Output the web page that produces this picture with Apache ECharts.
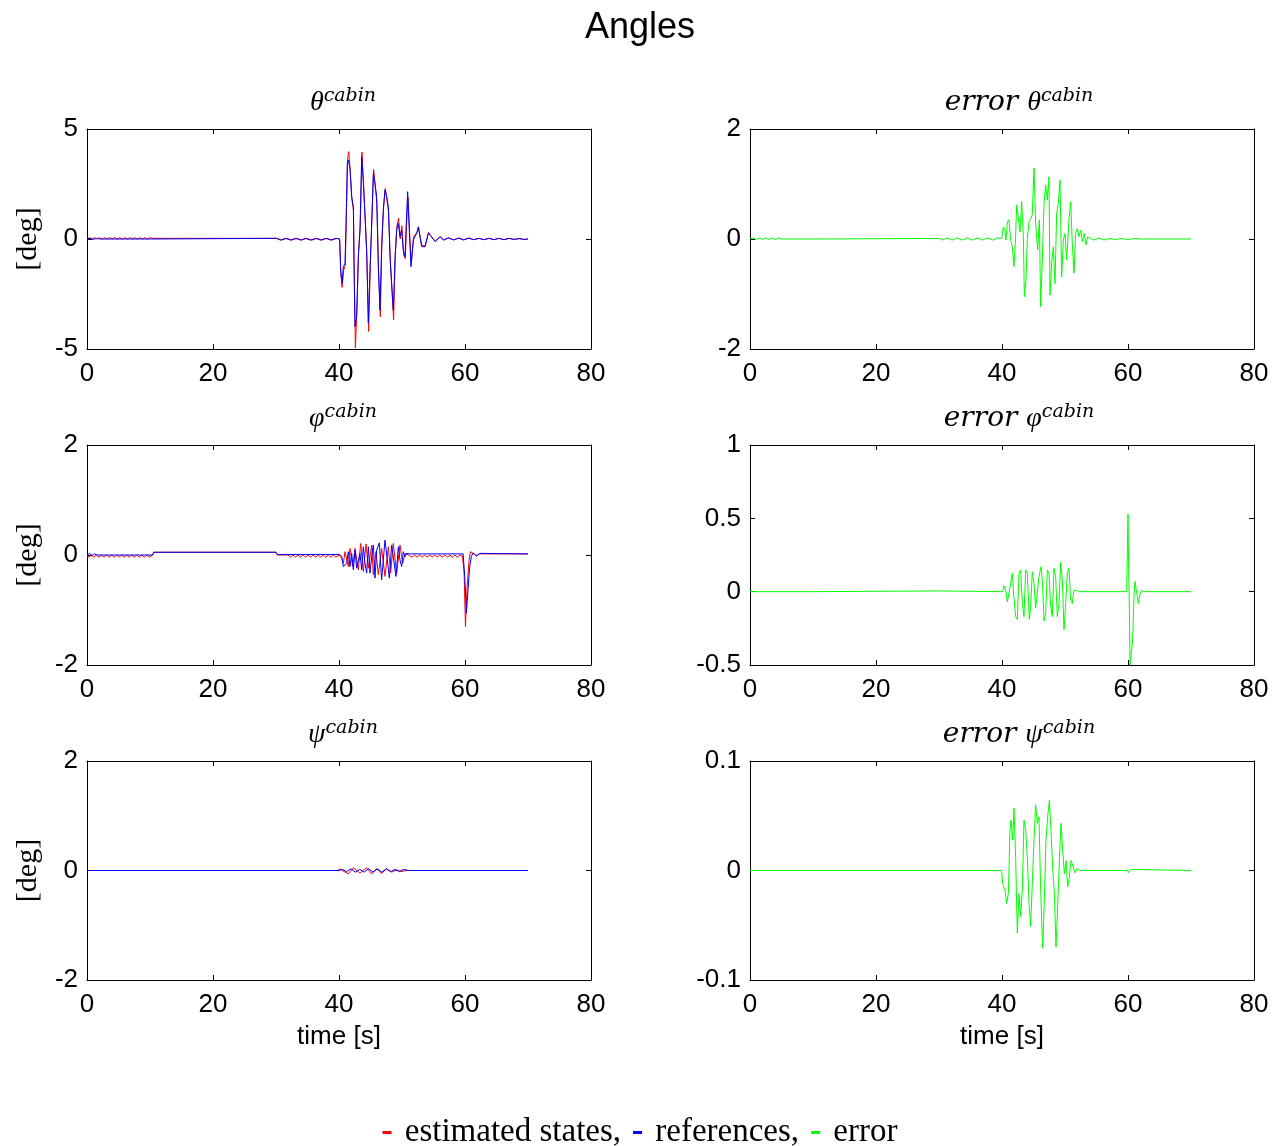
<!DOCTYPE html>
<html><head><meta charset="utf-8">
<script src="https://cdn.jsdelivr.net/npm/echarts@6/dist/echarts.min.js"></script>
<style>html,body{margin:0;padding:0;background:#fff}#c{width:1280px;height:1146px}</style>
</head><body><div id="c"></div>
<script>
// ---------- axes / ticks ----------
const xRange = [0, 80, 20];
const yRanges = [[-5, 5, 5], [-2, 2, 2], [-2, 2, 2], [-0.5, 1, 0.5], [-2, 2, 2], [-0.1, 0.1, 0.1]];
const panelTitles = [['', 'θ'], ['error ', 'θ'], ['', 'φ'], ['error ', 'φ'], ['', 'ψ'], ['error ', 'ψ']];
const legendNames = ['estimated states,', 'references,', 'error'];

// ---------- theta (cabin) ----------
const thetaRef = [[0,0],[0.5,0.03],[1,-0.02],[1.5,0.03],[2,0],[10.3,0],[10.5,0.03],[30.1,0.03],[30.3,0],[30.7,-0.05],[31.5,0.03],[32.3,-0.05],[33.1,0.03],[33.9,-0.05],[34.7,0.03],[35.5,-0.05],[36.3,0.03],[37.1,-0.05],[37.9,0.03],[38.7,-0.05],[39.5,0.03],[40.1,0],
[40.26,-1.41],[40.48,-2.02],[40.69,-1.26],[40.95,-1.11],[41.11,0.56],[41.32,3.44],[41.48,3.59],[41.75,3.21],[42.01,1.92],[42.28,1.47],[42.38,-1.11],[42.54,-3.98],[42.8,-3.53],[43.07,-0.8],[43.33,0.41],[43.6,3.74],[43.86,2.68],[44.13,1.01],[44.39,-0.5],[44.66,-3.83],[44.92,-1.41],[45.19,0.71],[45.45,2.98],[45.71,2.53],[45.98,1.92],[46.24,-1.26],[46.51,-3.23],[46.77,-0.35],[47.04,1.32],[47.3,2.23],[47.57,1.92],[47.83,1.47],[48.1,-0.8],[48.36,-2.02],[48.62,-3.23],[48.89,-0.95],[49.15,0.41],[49.42,0.71],[49.68,0.11],[49.95,0.41],[50.21,-0.5],[50.48,-0.8],[50.74,1.17],[50.9,2.15],[51.16,0.41],[51.43,-1.26],[51.8,-0.05],[52.33,0.26],[52.59,0.56],[52.86,0.11],[53.12,-0.35],[53.65,-0.35],[54.18,0.26],[54.71,0.11],[55.24,-0.12],[56.03,0.11],[56.56,-0.05],[57.36,0.05],
[58.2,-0.04],[59,0.04],[59.8,-0.04],[60.6,0.04],[61.4,-0.03],[62.2,0.03],[63,-0.03],[63.8,0.03],[64.6,-0.03],[65.4,0.03],[66.2,-0.03],[67,0.03],[67.8,-0.02],[68.6,0.02],[69.4,-0.02],[70,0]];
const thetaEst = [[0,0],[0.4,0.06],[0.8,0],[1.2,0.06],[1.6,0],[2,0.06],[2.4,0],[2.8,0.06],[3.2,0],[3.6,0.06],[4,0],[4.4,0.06],[4.8,0],[5.2,0.06],[5.6,0],[6,0.06],[6.4,0],[6.8,0.06],[7.2,0],[7.6,0.06],[8,0],[8.4,0.06],[8.8,0],[9.2,0.06],[9.6,0],[10,0.06],[10.3,0],[10.5,0.03],[30.1,0.03],[30.3,0],[30.9,-0.05],[31.7,0.03],[32.5,-0.05],[33.3,0.03],[34.1,-0.05],[34.9,0.03],[35.7,-0.05],[36.5,0.03],[37.3,-0.05],[38.1,0.03],[38.9,-0.05],[39.7,0.03],[40.1,0],
[40.3,-1.6],[40.5,-2.2],[40.75,-1.4],[41,-1.2],[41.15,0.8],[41.38,3.7],[41.55,3.97],[41.8,3.0],[42.05,1.8],[42.3,1.3],[42.42,-1.5],[42.6,-4.96],[42.85,-3.2],[43.1,-0.6],[43.38,0.6],[43.65,3.95],[43.9,2.4],[44.18,0.8],[44.42,-0.8],[44.7,-4.2],[44.97,-1.2],[45.22,0.9],[45.5,3.16],[45.75,2.4],[46.02,1.6],[46.28,-1.5],[46.56,-3.53],[46.8,-0.2],[47.08,1.5],[47.35,2.3],[47.6,1.8],[47.88,1.2],[48.14,-1.0],[48.4,-2.3],[48.67,-3.68],[48.93,-0.7],[49.2,0.6],[49.46,0.95],[49.72,0.0],[49.98,0.6],[50.25,-0.7],[50.52,-0.9],[50.78,1.0],[50.95,1.9],[51.2,0.3],[51.47,-1.1],[51.85,0.1],[52.38,0.3],[52.64,0.5],[52.9,0.05],[53.17,-0.3],[53.7,-0.3],[54.23,0.3],[54.76,0.05],[55.3,-0.1],[56.1,0.1],[56.6,-0.05],[57.4,0.05],
[58.2,-0.04],[59,0.04],[59.8,-0.04],[60.6,0.04],[61.4,-0.03],[62.2,0.03],[63,-0.03],[63.8,0.03],[64.6,-0.03],[65.4,0.03],[66.2,-0.03],[67,0.03],[67.8,-0.02],[68.6,0.02],[69.4,-0.02],[70,0]];
const thetaErr = [[0,0],[0.5,0.02],[1,-0.01],[1.5,0.02],[2,-0.01],[2.5,0.02],[3,-0.01],[3.5,0.02],[4,-0.01],[4.5,0.02],[5,0],[10.2,0],[10.4,0.01],[30.1,0.01],[30.5,-0.02],[31.3,0.02],[32.1,-0.02],[32.9,0.02],[33.7,-0.02],[34.5,0.02],[35.3,-0.02],[36.1,0.02],[36.9,-0.02],[37.7,0.02],[38.5,-0.02],[39.3,0.02],[39.95,0.01],
[40.21,0.22],[40.48,0.16],[40.63,-0.02],[40.85,0.31],[41.11,0.35],[41.38,-0.02],[41.64,-0.14],[41.9,-0.5],[42.12,-0.08],[42.33,0.62],[42.59,0.65],[42.86,0.13],[43.12,0.68],[43.39,0.04],[43.55,-1.05],[43.81,-0.75],[44.02,0.01],[44.29,0.31],[44.55,0.37],[44.81,0.44],[45.08,1.29],[45.34,0.28],[45.66,-0.2],[45.93,0.35],[46.14,-1.23],[46.4,-0.38],[46.67,0.65],[46.93,0.98],[47.2,0.71],[47.46,1.13],[47.62,-1.02],[47.88,-0.44],[48.15,-0.14],[48.41,-0.81],[48.68,0.47],[48.94,0.65],[49.21,1.07],[49.47,-0.69],[49.74,-0.02],[50,0.1],[50.26,-0.38],[50.63,0.35],[50.9,0.68],[51.16,-0.08],[51.43,-0.62],[51.69,0.1],[51.96,0.19],[52.22,0.04],[52.49,0.16],[52.75,-0.05],[53.07,0.1],[53.33,-0.11],[53.6,0.04],[53.86,0.07],
[54.6,-0.02],[55.4,0.02],[56.2,-0.02],[57,0.01],[58,-0.01],[59,0.01],[60,-0.01],[61,0.01],[62,0],[70,0]];

// ---------- phi (cabin) ----------
const phiRef = [[0,0],[0.4,0.03],[0.8,-0.01],[1.2,0.02],[1.6,0],[10.4,0],[10.6,0.05],[30,0.05],[30.2,0.01],[40.1,0.01],
[40.43,-0.03],[40.69,-0.21],[41.22,-0.15],[41.48,0.06],[41.75,-0.21],[42.01,0.03],[42.28,-0.27],[42.54,0.09],[42.8,-0.24],[43.33,0.03],[43.6,-0.27],[43.86,0.15],[44.13,-0.15],[44.39,-0.33],[44.66,0.15],[44.92,-0.33],[45.19,-0.03],[45.45,0.18],[45.71,-0.42],[45.98,0.09],[46.4,0.22],[46.77,-0.45],[47.04,-0.48],[47.3,0.27],[47.67,-0.09],[47.99,-0.42],[48.36,0.18],[48.62,0.15],[49.05,-0.39],[49.42,0.15],[49.68,-0.09],[49.95,-0.21],[50.21,0.06],[50.48,-0.03],[50.74,0.03],[51.27,0.02],
[59.7,0.02],[59.96,-0.39],[60.22,-1.06],[60.48,-0.64],[60.75,-0.21],[61.01,-0.03],[61.27,0.04],[61.8,-0.02],[62.33,0.03],[70,0.02]];
const phiEst = [[0,0],[0.3,-0.04],[0.7,0],[1.1,-0.04],[1.5,0],[1.9,-0.04],[2.3,0],[2.7,-0.04],[3.1,0],[3.5,-0.04],[3.9,0],[4.3,-0.04],[4.7,0],[5.1,-0.04],[5.5,0],[5.9,-0.04],[6.3,0],[6.7,-0.04],[7.1,0],[7.5,-0.04],[7.9,0],[8.3,-0.04],[8.7,0],[9.1,-0.04],[9.5,0],[9.9,-0.04],[10.4,0],[10.6,0.05],[30,0.05],[30.2,0],[31.9,0],[32.3,-0.04],[32.7,0],[33.1,-0.04],[33.5,0],[33.9,-0.04],[34.3,0],[34.7,-0.04],[35.1,0],[35.5,-0.04],[35.9,0],[36.3,-0.04],[36.7,0],[37.1,-0.04],[37.5,0],[37.9,-0.04],[38.3,0],[38.7,-0.04],[39.1,0],[39.5,-0.04],[40,0],
[40.4,-0.05],[40.7,-0.15],[40.95,0.06],[41.48,-0.21],[41.75,0.12],[42.17,-0.21],[42.54,0.12],[43.07,-0.27],[43.44,0.21],[43.86,-0.3],[44.29,0.2],[44.66,-0.24],[45.19,0.18],[45.45,-0.36],[45.87,0.06],[46.24,-0.36],[46.77,0.12],[47.3,-0.39],[47.83,0.15],[48.2,-0.33],[48.62,0.21],[49.15,-0.33],[49.68,0.18],[50.11,-0.15],[50.48,0.03],[51,0],
[51.6,-0.04],[52,0],[52.4,-0.04],[52.8,0],[53.2,-0.04],[53.6,0],[54,-0.04],[54.4,0],[54.8,-0.04],[55.2,0],[55.6,-0.04],[56,0],[56.4,-0.04],[56.8,0],[57.2,-0.04],[57.6,0],[58,-0.04],[58.4,0],[58.8,-0.04],[59.2,0],[59.6,-0.02],
[59.86,-0.33],[60.07,-1.3],[60.33,-0.58],[60.65,-0.09],[60.86,0.06],[61.27,0.03],[61.8,-0.01],[62.4,0.02],[70,0.02]];
const phiErr = [[0,0],[10.3,0],[10.5,0.005],[30.1,0.005],[30.3,0],[40.1,0],
[40.32,0.04],[40.58,0.01],[40.85,-0.07],[41.11,-0.06],[41.38,0.057],[41.64,0.125],[41.9,-0.045],[42.17,-0.17],[42.43,-0.19],[42.7,0.125],[42.96,0.148],[43.23,-0.08],[43.49,-0.17],[43.76,0.148],[44.02,0.125],[44.34,-0.19],[44.55,-0.1],[44.81,0.136],[45.08,0.057],[45.34,-0.113],[45.61,-0.125],[45.87,0.1],[46.19,0.17],[46.4,0.08],[46.67,-0.2],[46.93,-0.147],[47.2,0.148],[47.46,0.125],[47.72,-0.1],[47.99,-0.17],[48.25,0.16],[48.52,0.1],[48.78,-0.17],[49.05,-0.08],[49.31,0.2],[49.58,0.08],[49.84,-0.26],[50.11,-0.08],[50.37,0.125],[50.63,0.16],[50.9,-0.057],[51.16,-0.08],[51.43,0.01],[51.75,0.01],[52.12,0],
[59.79,0],[60.0,0.53],[60.12,0.1],[60.2,-0.06],[60.32,-0.5],[60.74,-0.33],[60.95,-0.03],[61.11,0.07],[61.38,-0.01],[61.64,-0.08],[61.9,-0.02],[62.17,0.01],[62.54,0],[70,0]];

// ---------- psi (cabin) ----------
const psiRef = [[0,0],[40,0],[40.5,0.02],[41.2,-0.02],[41.9,0.03],[42.6,-0.03],[43.3,0.02],[44,-0.03],[44.7,0.03],[45.4,-0.03],[46.1,0.03],[46.8,-0.03],[47.5,0.03],[48.2,-0.02],[48.9,0.02],[49.6,-0.02],[50.3,0.02],[51,0],[70,0]];
const psiEst = [[0,0],[39.8,0],[40.16,0.03],[40.95,-0.03],[41.48,-0.06],[42.28,0.05],[43.33,-0.05],[44.39,0.05],[45.19,-0.06],[45.98,0.03],[46.77,-0.05],[47.57,0.03],[48.36,-0.03],[49.15,0.01],[49.95,-0.02],[50.63,0],[70,0]];
const psiErr = [[0,0],[39.95,0],[40.1,-0.012],[40.48,-0.018],[40.74,-0.03],[41.01,-0.021],[41.27,0.037],[41.43,0.046],[41.69,0.028],[41.9,0.057],[42.17,0.012],[42.43,-0.057],[42.7,-0.021],[42.96,-0.042],[43.23,-0.018],[43.49,0.046],[43.76,0.037],[44.02,0.012],[44.29,-0.03],[44.55,-0.051],[44.81,-0.012],[45.08,0.028],[45.34,0.06],[45.61,0.043],[45.87,0.049],[46.14,-0.018],[46.46,-0.071],[46.72,-0.027],[46.98,0.028],[47.25,0.049],[47.51,0.064],[47.78,0.037],[48.04,0.003],[48.31,-0.021],[48.57,-0.07],[48.84,-0.033],[49.1,0.009],[49.37,0.043],[49.63,0.019],[49.89,-0.003],[50.16,0.009],[50.42,-0.015],[50.69,-0.006],[50.95,0.009],[51.22,0.005],[51.59,-0.002],[51.96,0.002],[52.38,0],[59.9,0],[60.1,-0.002],[60.4,0.001],[60.7,0],[70,0]];

// ---------- chart ----------
const RED = '#ff0000', BLUE = '#0000ff', GREEN = '#00ff00';
const gridBoxes = [
  {left: 87, top: 129, width: 504, height: 220},
  {left: 750, top: 129, width: 504, height: 220},
  {left: 87, top: 445, width: 504, height: 220},
  {left: 750, top: 445, width: 504, height: 220},
  {left: 87, top: 761, width: 504, height: 219},
  {left: 750, top: 761, width: 504, height: 219}
];
const SANS = 'Liberation Sans, Arial, sans-serif';
const SERIF = 'Liberation Serif, Times New Roman, serif';
const MATH = 'DejaVu Serif, serif';
const axisLine = {show: true, onZero: false, lineStyle: {color: '#000', width: 1}};
const axisTick = {show: true, inside: true, length: 5, lineStyle: {color: '#000', width: 1}};

const xAxes = [], yAxes = [], grids = [];
gridBoxes.forEach((b, g) => {
  grids.push(Object.assign({outerBoundsMode: 'none', containLabel: false}, b));
  const last = g >= 4;
  xAxes.push({gridIndex: g, type: 'value', position: 'bottom', min: xRange[0], max: xRange[1], interval: xRange[2],
    axisLine, axisTick, splitLine: {show: false},
    axisLabel: {fontSize: 26, color: '#000', margin: 12, fontFamily: SANS},
    name: last ? 'time [s]' : '', nameLocation: 'middle', nameGap: 44,
    nameTextStyle: {fontSize: 26, color: '#000', fontFamily: SANS}});
  xAxes.push({gridIndex: g, type: 'value', position: 'top', min: xRange[0], max: xRange[1], interval: xRange[2],
    axisLine, axisTick, splitLine: {show: false}, axisLabel: {show: false}});
  const r = yRanges[g];
  yAxes.push({gridIndex: g, type: 'value', position: 'left', min: r[0], max: r[1], interval: r[2],
    axisLine, axisTick, splitLine: {show: false},
    axisLabel: {fontSize: 26, color: '#000', margin: 9, fontFamily: SANS},
    name: g % 2 === 0 ? '[deg]' : '', nameLocation: 'middle', nameRotate: 90, nameGap: 44,
    nameTextStyle: {fontSize: 30, color: '#000', fontFamily: SERIF}});
  yAxes.push({gridIndex: g, type: 'value', position: 'right', min: r[0], max: r[1], interval: r[2],
    axisLine, axisTick, splitLine: {show: false}, axisLabel: {show: false}});
});

function line(name, color, data, g) {
  return {name, type: 'line', xAxisIndex: 2 * g, yAxisIndex: 2 * g, data, showSymbol: false, symbol: 'none',
    lineStyle: {color, width: 1}, itemStyle: {color}, clip: true, animation: false, z: 2};
}
const series = [
  line(legendNames[0], RED, thetaEst, 0), line(legendNames[1], BLUE, thetaRef, 0),
  line(legendNames[2], GREEN, thetaErr, 1),
  line(legendNames[0], RED, phiEst, 2), line(legendNames[1], BLUE, phiRef, 2),
  line(legendNames[2], GREEN, phiErr, 3),
  line(legendNames[0], RED, psiEst, 4), line(legendNames[1], BLUE, psiRef, 4),
  line(legendNames[2], GREEN, psiErr, 5)
];

const graphics = panelTitles.map((pt, g) => {
  const b = gridBoxes[g];
  const cx = b.left + b.width / 2 + (pt[0] ? 17 : 4);
  return {type: 'text', x: cx, y: b.top - 27, style: {
    text: (pt[0] ? '{e|' + pt[0] + '}' : '') + '{m|' + pt[1] + '}{s|cabin}',
    align: 'center', verticalAlign: 'middle',
    rich: {
      e: {fontSize: 28, fontStyle: 'italic', fontFamily: MATH, fill: '#000', lineHeight: 30, verticalAlign: 'bottom'},
      m: {fontSize: 28, fontStyle: 'italic', fontFamily: SERIF, fill: '#000', lineHeight: 30, verticalAlign: 'bottom'},
      s: {fontSize: 19, fontStyle: 'italic', fontFamily: MATH, fill: '#000', lineHeight: 19, verticalAlign: 'top'}
    }}};
});

const chart = echarts.init(document.getElementById('c'), null, {renderer: 'canvas'});
chart.setOption({
  animation: false,
  backgroundColor: '#fff',
  title: {text: 'Angles', left: 'center', top: 5, textStyle: {fontSize: 36, fontWeight: 'normal', color: '#000', fontFamily: SANS}},
  grid: grids, xAxis: xAxes, yAxis: yAxes, series,
  legend: {data: legendNames, top: 1111, left: 'center', icon: 'rect', itemWidth: 9, itemHeight: 3, itemGap: 12,
    formatter: n => ' ' + n, selectedMode: false,
    textStyle: {fontSize: 33, color: '#000', fontFamily: SERIF}},
  graphic: graphics
});
</script></body></html>
